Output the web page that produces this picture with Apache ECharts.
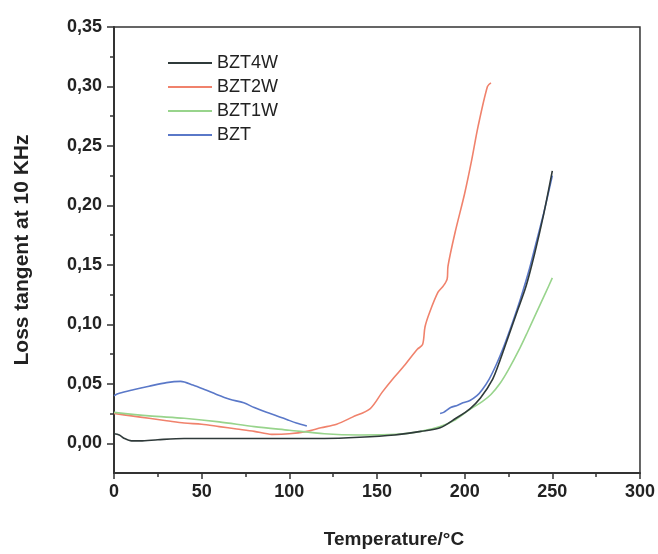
<!DOCTYPE html>
<html>
<head>
<meta charset="utf-8">
<script src="https://cdn.jsdelivr.net/npm/echarts@6/dist/echarts.min.js"></script>
<style>html,body{margin:0;padding:0;background:#fff}#c{width:658px;height:554px}</style>
</head>
<body>
<div id="c"></div>
<script>
// ---- data ----
const seriesNames = ['BZT4W', 'BZT2W', 'BZT1W', 'BZT'];
const xTicks = [0, 50, 100, 150, 200, 250, 300];
const yTicks = [0, 0.05, 0.10, 0.15, 0.20, 0.25, 0.30, 0.35];
const yMinorTicks = [0.025, 0.075, 0.125, 0.175, 0.225, 0.275, 0.325];

const bzt4wTemp = [0, 3, 6, 10, 15, 25, 40, 60, 80, 100, 120, 140, 160, 175, 186, 195, 203, 209, 216, 220, 225, 230, 235, 240, 245, 250];
const bzt4wVal  = [0.008, 0.007, 0.004, 0.002, 0.002, 0.003, 0.004, 0.004, 0.004, 0.004, 0.004, 0.005, 0.007, 0.010, 0.013, 0.021, 0.029, 0.038, 0.054, 0.069, 0.090, 0.111, 0.132, 0.160, 0.192, 0.229];

const bzt2wTemp = [0, 10, 20, 30, 40, 50, 60, 70, 80, 90, 100, 110, 118, 127, 136, 146, 153, 159, 166, 173, 176, 177.4, 180, 184.8, 187.7, 190, 190.5, 194.5, 200, 204, 207.6, 213, 215];
const bzt2wVal  = [0.025, 0.023, 0.021, 0.019, 0.017, 0.016, 0.014, 0.012, 0.010, 0.0075, 0.008, 0.010, 0.013, 0.016, 0.022, 0.029, 0.043, 0.054, 0.066, 0.079, 0.083, 0.098, 0.110, 0.127, 0.132, 0.138, 0.149, 0.177, 0.210, 0.238, 0.266, 0.300, 0.303];

const bzt1wTemp = [0, 20, 40, 60, 80, 100, 120, 140, 161, 175, 186, 195, 203, 210, 215, 220, 225, 231.5, 236, 241, 246, 250];
const bzt1wVal  = [0.026, 0.023, 0.021, 0.018, 0.014, 0.011, 0.008, 0.007, 0.0075, 0.010, 0.014, 0.020, 0.0285, 0.035, 0.041, 0.050, 0.062, 0.080, 0.094, 0.110, 0.126, 0.139];

const bztTemp = [0, 3, 11, 20, 30, 38, 45, 52, 58.5, 66, 74, 80, 87, 93, 98.5, 104, 110, null, 186, 188, 192, 196, 199, 203, 207, 210, 214, 218, 222, 226, 230, 233, 237, 241, 245, 248, 250];
const bztVal  = [0.040, 0.042, 0.045, 0.048, 0.051, 0.052, 0.049, 0.045, 0.041, 0.037, 0.034, 0.030, 0.026, 0.023, 0.020, 0.017, 0.0145, null, 0.025, 0.026, 0.030, 0.032, 0.034, 0.036, 0.040, 0.045, 0.054, 0.066, 0.080, 0.096, 0.113, 0.127, 0.147, 0.170, 0.193, 0.212, 0.225];

function pairs(t, v) {
  return t.map((x, i) => x === null ? '-' : [x, v[i]]);
}

const colors = ['#2f3a3a', '#f0826c', '#98d48c', '#5a78c8'];
const temps = [bzt4wTemp, bzt2wTemp, bzt1wTemp, bztTemp];
const vals = [bzt4wVal, bzt2wVal, bzt1wVal, bztVal];

const fontFam = '"Liberation Sans", Arial, sans-serif';
const chart = echarts.init(document.getElementById('c'), null, {renderer: 'canvas'});

const option = {
  animation: false,
  backgroundColor: '#ffffff',
  grid: {left: 114, right: 18, top: 27, bottom: 81, show: true, borderColor: '#333', borderWidth: 1.5, containLabel: false},
  legend: {
    orient: 'vertical', left: 163, top: 49,
    data: seriesNames,
    icon: 'rect', itemWidth: 44, itemHeight: 2, itemGap: 6,
    textStyle: {fontFamily: fontFam, fontSize: 18, color: '#222'}
  },
  xAxis: {
    type: 'value', min: 0, max: 300, interval: 50,
    name: 'Temperature/°C', nameLocation: 'middle', nameGap: 57,
    nameTextStyle: {fontFamily: fontFam, fontSize: 19, fontWeight: 'bold', color: '#222', padding: [0, 0, 0, 34]},
    axisLine: {show: true, onZero: false, lineStyle: {color: '#333', width: 2}},
    axisTick: {show: true, length: 6, lineStyle: {color: '#333', width: 1.5}},
    minorTick: {show: true, splitNumber: 2, length: 4, lineStyle: {color: '#333', width: 1.5}},
    axisLabel: {fontFamily: fontFam, fontSize: 18, fontWeight: 'bold', color: '#222', margin: 10},
    splitLine: {show: false}
  },
  yAxis: [{
    type: 'value', min: -0.025, max: 0.35,
    name: 'Loss tangent at 10 KHz', nameLocation: 'middle', nameGap: 81,
    nameTextStyle: {fontFamily: fontFam, fontSize: 21, fontWeight: 'bold', color: '#222'},
    axisLine: {show: true, onZero: false, lineStyle: {color: '#333', width: 2}},
    axisTick: {show: true, length: 7, customValues: yTicks, lineStyle: {color: '#333', width: 1.5}},
    axisLabel: {customValues: yTicks, fontFamily: fontFam, fontSize: 18, fontWeight: 'bold', color: '#222', margin: 12,
      formatter: v => v.toFixed(2).replace('.', ',')},
    splitLine: {show: false}
  }, {
    type: 'value', min: -0.025, max: 0.35, position: 'left',
    axisLine: {show: false, onZero: false},
    axisTick: {show: true, length: 4, customValues: yMinorTicks, lineStyle: {color: '#333', width: 1.5}},
    axisLabel: {show: false, customValues: yMinorTicks},
    splitLine: {show: false}
  }],
  series: seriesNames.map((n, i) => ({
    name: n, type: 'line', showSymbol: false, smooth: 0.3, connectNulls: false,
    data: pairs(temps[i], vals[i]),
    color: colors[i],
    lineStyle: {width: 1.6, color: colors[i]},
    z: i === 0 ? 5 : 3
  }))
};
chart.setOption(option);
</script>
</body>
</html>
